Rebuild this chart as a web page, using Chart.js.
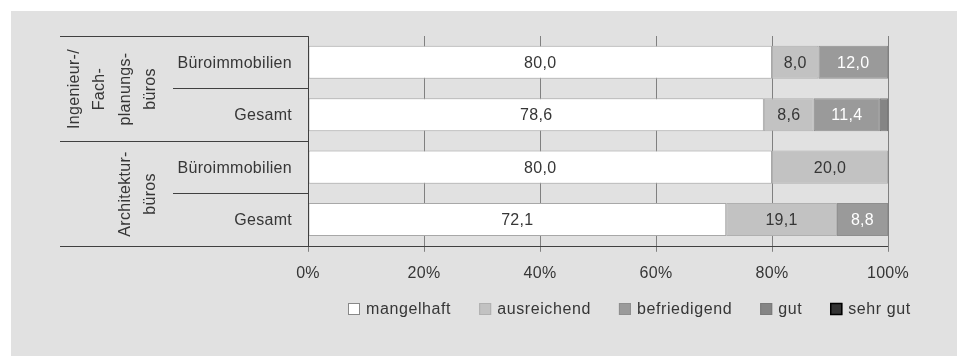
<!DOCTYPE html>
<html><head><meta charset="utf-8">
<script src="https://cdn.jsdelivr.net/npm/chart.js@4"></script>
<style>html,body{margin:0;padding:0;background:#fff}#wrap{width:957px;height:356px;position:relative}</style>
</head><body><div id="wrap"><canvas id="c" width="957" height="356"></canvas></div>
<script>
// ---- data ----
const categories = ["Büroimmobilien", "Gesamt", "Büroimmobilien", "Gesamt"];
const groupLabels = [["Ingenieur-/", "Fach-", "planungs-", "büros"], ["Architektur-", "büros"]];
const groupSizes = [2, 2];
const seriesNames = ["mangelhaft", "ausreichend", "befriedigend", "gut", "sehr gut"];
const mangelhaft   = [80.0, 78.6, 80.0, 72.1];
const ausreichend  = [8.0, 8.6, 20.0, 19.1];
const befriedigend = [12.0, 11.4, 0, 8.8];
const gut          = [0, 1.4, 0, 0];
const sehrGut      = [0, 0, 0, 0];
const xTicks = [0, 20, 40, 60, 80, 100];

// ---- styles ----
const FONT = '"Liberation Sans", Arial, sans-serif';
const FS = 16;
const TXT = '#363636';
const fills   = ['#ffffff', '#c2c2c2', '#9a9a9a', '#858585', '#333333'];
const borders = ['#a8a8a8', '#b0b0b0', '#8e8e8e', '#7a7a7a', '#000000'];
const labelColors = [TXT, TXT, '#ffffff', '#ffffff', '#ffffff'];
const seriesData = [mangelhaft, ausreichend, befriedigend, gut, sehrGut];

const datasets = seriesNames.map((n, i) => ({
  label: n, data: seriesData[i],
  backgroundColor: fills[i], borderColor: borders[i], borderWidth: 1, borderSkipped: false,
  barPercentage: 0.63, categoryPercentage: 1.0
}));

const fmt = v => v.toFixed(1).replace('.', ',');

const bgPlugin = {
  id: 'bg',
  beforeDraw(chart) {
    const ctx = chart.ctx;
    ctx.fillStyle = '#ffffff';
    ctx.fillRect(0, 0, chart.width, chart.height);
    ctx.fillStyle = '#e1e1e1';
    ctx.fillRect(11, 11, chart.width - 11, chart.height - 11);
    ctx.letterSpacing = '0.3px';
  }
};

const labelPlugin = {
  id: 'vals',
  afterDatasetsDraw(chart) {
    const ctx = chart.ctx;
    ctx.save();
    ctx.font = FS + 'px ' + FONT;
    ctx.textAlign = 'center';
    ctx.textBaseline = 'middle';
    chart.data.datasets.forEach((ds, i) => {
      const meta = chart.getDatasetMeta(i);
      meta.data.forEach((el, j) => {
        const v = ds.data[j];
        if (v < 3) return;
        ctx.fillStyle = labelColors[i];
        ctx.fillText(fmt(v), (el.x + el.base) / 2, el.y + 1);
      });
    });
    ctx.restore();
  }
};

const tablePlugin = {
  id: 'table',
  afterDraw(chart) {
    const ctx = chart.ctx;
    const ca = chart.chartArea;
    const ys = chart.scales.y;
    const n = categories.length;
    const step = (ys.getPixelForValue(1) - ys.getPixelForValue(0));
    const bound = k => Math.round(ys.getPixelForValue(0) - step / 2 + k * step) + 0.5;
    const leftOuter = 60, leftInner = 173;
    const ax = Math.round(ca.left) + 0.5;
    ctx.save();
    ctx.strokeStyle = '#404040';
    ctx.lineWidth = 1;
    let k = 0;
    const starts = [];
    for (let g = 0; g < groupSizes.length; g++) {
      starts.push(k);
      k += groupSizes[g];
    }
    for (let b = 0; b <= n; b++) {
      const isGroup = starts.includes(b) || b === n;
      const y = bound(b);
      ctx.beginPath();
      ctx.moveTo(isGroup ? leftOuter : leftInner, y);
      ctx.lineTo(b === n ? ca.right : ax, y);
      ctx.stroke();
    }
    ctx.beginPath();
    ctx.moveTo(ax, bound(0));
    ctx.lineTo(ax, bound(n));
    ctx.stroke();
    // category labels
    ctx.fillStyle = TXT;
    ctx.font = FS + 'px ' + FONT;
    ctx.textAlign = 'right';
    ctx.textBaseline = 'middle';
    categories.forEach((c, i) => ctx.fillText(c, ca.left - 16, ys.getPixelForValue(i) + 1));
    // group labels (rotated)
    ctx.textAlign = 'center';
    ctx.textBaseline = 'alphabetic';
    groupLabels.forEach((lines, g) => {
      const yc = (bound(starts[g]) + bound(starts[g] + groupSizes[g])) / 2;
      lines.forEach((t, li) => {
        const bx = 155 - (lines.length - 1 - li) * 25.5;
        ctx.save();
        ctx.translate(bx, yc);
        ctx.rotate(-Math.PI / 2);
        ctx.fillText(t, 0, 0);
        ctx.restore();
      });
    });
    // legend
    ctx.letterSpacing = '0.6px';
    let x = 348;
    const ly = 309;
    ctx.textAlign = 'left';
    ctx.textBaseline = 'middle';
    seriesNames.forEach((s, i) => {
      ctx.fillStyle = fills[i];
      ctx.fillRect(x, ly - 6, 12, 12);
      ctx.strokeStyle = i === 4 ? '#000' : (i === 0 ? '#888' : borders[i]);
      ctx.lineWidth = i === 4 ? 1.5 : 1;
      ctx.strokeRect(x + 0.5, ly - 5.5, 11, 11);
      ctx.fillStyle = TXT;
      ctx.fillText(s, x + 18, ly + 1);
      x += 18 + ctx.measureText(s).width + 28;
    });
    ctx.restore();
  }
};

new Chart(document.getElementById('c'), {
  type: 'bar',
  data: { labels: categories, datasets },
  options: {
    indexAxis: 'y',
    responsive: false,
    animation: false,
    devicePixelRatio: 1,
    layout: { padding: { left: 308, right: 69, top: 36, bottom: 61 } },
    plugins: { legend: { display: false }, tooltip: { enabled: false } },
    scales: {
      x: {
        stacked: true, min: 0, max: 100,
        afterBuildTicks(s) { s.ticks = xTicks.map(v => ({ value: v })); },
        ticks: { callback: v => v + '%', color: TXT, font: { family: FONT, size: FS }, padding: 12, maxRotation: 0 },
        grid: { color: '#808080', tickColor: '#808080', tickLength: 6, drawOnChartArea: true },
        border: { display: false }
      },
      y: { stacked: true, display: false }
    }
  },
  plugins: [bgPlugin, labelPlugin, tablePlugin]
});
</script></body></html>
